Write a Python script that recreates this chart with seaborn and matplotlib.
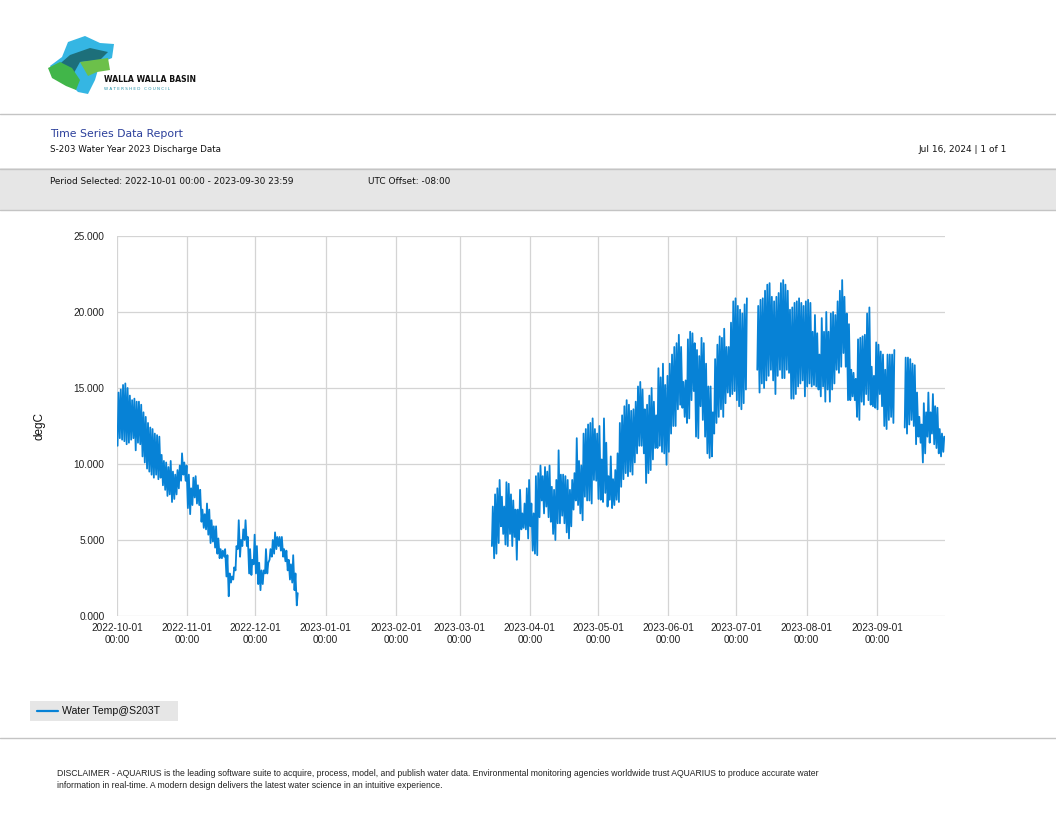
import pandas as pd
import matplotlib
matplotlib.use("Agg")
import matplotlib.pyplot as plt
import matplotlib.dates as mdates
from matplotlib.patches import Polygon, Rectangle
import seaborn as sns

# Daily high / low water temperature (degC), one value per day.
# Each segment starts on the date in seg_starts; gaps in the record sit between segments.
seg_starts = ["2022-10-01", "2023-03-15", "2023-07-10", "2023-09-13"]

hi_1 = [14.7, 14.9, 15.2, 15.3, 15.0, 14.5, 14.2, 14.3, 14.1, 14.1,
        13.9, 13.4, 13.1, 12.7, 12.4, 12.3, 12.0, 11.9, 11.8, 10.6,
        10.2, 10.1, 9.8, 10.2, 9.5, 9.3, 9.6, 9.9, 10.7, 10.1,
        9.9, 9.3, 8.4, 9.1, 9.2, 8.6, 8.3, 7.0, 6.7, 7.4,
        7.0, 6.3, 5.9, 5.9, 5.1, 4.4, 4.3, 4.4, 4.0, 2.8,
        2.6, 3.2, 4.6, 6.3, 5.0, 5.7, 6.3, 5.2, 4.4, 3.7,
        5.35, 4.6, 3.5, 3.0, 3.0, 4.4, 3.5, 4.4, 5.0, 5.5,
        5.2, 5.2, 5.2, 4.4, 4.3, 3.7, 3.4, 4.0, 2.8, 1.5]
lo_1 = [11.2, 11.7, 11.6, 11.5, 11.3, 11.4, 11.6, 11.7, 10.9, 11.4,
        11.3, 10.5, 10.1, 9.7, 9.5, 9.3, 9.1, 9.3, 9.0, 9.1,
        8.6, 8.3, 7.9, 8.0, 7.5, 7.7, 8.0, 8.4, 8.9, 9.3,
        8.9, 7.1, 6.7, 7.3, 7.8, 7.4, 7.3, 6.2, 5.8, 5.7,
        5.35, 4.8, 4.9, 4.5, 4.1, 3.8, 3.8, 3.9, 2.6, 1.3,
        2.2, 2.4, 3.0, 4.4, 3.9, 4.6, 5.0, 4.6, 2.8, 2.7,
        3.4, 2.8, 2.1, 1.7, 2.1, 2.8, 2.8, 3.7, 3.9, 4.1,
        4.4, 4.6, 4.3, 3.9, 3.6, 3.0, 2.4, 2.2, 1.7, 0.7]

hi_2 = [7.2, 8.0, 8.4, 8.95, 7.85, 7.2, 8.8, 8.7, 8.0, 7.6,
        7.0, 7.0, 8.3, 6.75, 7.4, 8.4, 8.95, 7.4, 6.75, 9.2,
        9.4, 9.9, 9.2, 9.8, 9.5, 9.9, 8.5, 8.3, 8.95, 10.9,
        9.3, 9.3, 9.2, 8.95, 8.3, 8.95, 9.4, 11.7, 10.2, 9.9,
        12.0, 12.3, 12.6, 12.7, 13.0, 12.3, 12.0, 12.5, 10.3, 13.0,
        11.4, 9.2, 10.5, 9.0, 9.6, 10.7, 12.7, 13.2, 13.8, 14.2,
        13.9, 13.5, 13.6, 14.1, 15.1, 15.4, 14.9, 13.6, 13.9, 14.5,
        15.0, 14.1, 13.2, 16.3, 15.7, 16.6, 15.2, 15.8, 16.6, 17.2,
        17.7, 17.95, 18.5, 17.7, 15.4, 15.5, 18.2, 18.7, 18.6, 17.95,
        17.5, 17.1, 18.3, 17.95, 16.6, 15.1, 15.1, 13.4, 16.9, 17.85,
        18.4, 18.3, 18.9, 17.7, 17.7, 19.3, 20.7, 20.9, 20.4, 20.15,
        19.9, 20.5, 20.9]
lo_2 = [4.6, 3.8, 4.1, 4.8, 5.9, 5.4, 4.7, 4.6, 5.4, 4.6,
        5.2, 3.7, 5.0, 5.7, 5.8, 5.7, 5.1, 5.9, 4.3, 4.1,
        4.0, 6.5, 7.6, 6.75, 7.2, 6.5, 6.2, 5.4, 5.0, 6.1,
        6.1, 6.6, 6.1, 5.5, 5.1, 5.9, 7.0, 7.6, 7.3, 6.75,
        6.3, 7.85, 7.6, 7.6, 7.4, 8.95, 8.9, 7.7, 7.65, 7.5,
        8.1, 7.2, 7.65, 7.1, 7.3, 7.65, 7.5, 8.5, 9.0, 9.4,
        9.2, 9.5, 9.3, 10.1, 10.7, 11.2, 11.2, 10.7, 8.75, 9.4,
        9.6, 10.3, 11.05, 11.05, 11.2, 10.8, 10.7, 9.95, 10.8, 12.0,
        12.5, 12.5, 13.6, 13.9, 13.7, 13.1, 12.7, 13.0, 14.2, 14.8,
        11.8, 11.7, 13.8, 12.9, 11.8, 10.7, 10.4, 10.5, 12.0, 12.7,
        13.1, 13.6, 13.1, 14.0, 14.7, 14.45, 14.6, 14.8, 14.2, 13.8,
        13.6, 14.0, 14.9]

hi_3 = [20.4, 20.8, 20.9, 21.4, 21.8, 21.9, 21.0, 20.7, 21.0, 21.25,
        21.9, 22.1, 21.8, 21.4, 20.15, 20.3, 20.6, 20.7, 20.9, 20.6,
        20.4, 20.7, 20.8, 20.6, 18.7, 19.8, 18.6, 17.2, 19.6, 18.7,
        20.0, 18.7, 19.9, 20.0, 19.8, 20.7, 21.4, 22.1, 21.0, 19.9,
        19.2, 16.2, 16.0, 15.6, 18.2, 18.3, 18.4, 18.5, 19.9, 20.3,
        16.4, 15.8, 18.0, 17.85, 17.4, 17.2, 16.2, 17.2, 17.2, 17.2,
        17.5]
lo_3 = [16.2, 14.7, 15.3, 15.0, 15.5, 15.8, 16.2, 15.5, 14.6, 15.8,
        16.2, 15.65, 15.65, 16.2, 16.0, 14.3, 14.3, 14.6, 15.1, 15.3,
        15.5, 14.45, 15.1, 15.3, 15.1, 15.2, 15.1, 14.9, 14.45, 15.1,
        14.1, 14.9, 14.1, 14.9, 15.3, 16.2, 16.0, 16.4, 17.3, 16.4,
        14.2, 14.2, 14.45, 14.2, 13.1, 12.9, 14.1, 13.9, 14.6, 14.2,
        13.9, 13.8, 13.7, 13.6, 14.6, 13.8, 12.5, 12.3, 12.9, 13.1,
        12.7]

hi_4 = [17.0, 17.0, 16.9, 16.6, 16.5, 14.7, 13.1, 12.6, 14.0, 13.4,
        14.7, 13.4, 14.6, 13.8, 13.7, 12.3, 12.0, 11.8]
lo_4 = [12.4, 12.0, 12.6, 12.9, 12.5, 11.3, 11.8, 11.4, 10.1, 10.7,
        11.8, 11.4, 12.0, 11.3, 11.05, 10.7, 10.5, 10.8]

series_name = "Water Temp@S203T"
y_ticks = [0, 5, 10, 15, 20, 25]

LINE_COLOR = "#0782d6"
W, H = 1056, 816

# Build a long table: a low reading early in the day, a high reading in the afternoon
rows = []
for seg, (start, hi, lo) in enumerate(zip(seg_starts, [hi_1, hi_2, hi_3, hi_4],
                                          [lo_1, lo_2, lo_3, lo_4])):
    days = pd.date_range(start, periods=len(hi), freq="D")
    for day, h, l in zip(days, hi, lo):
        rows.append((seg, day + pd.Timedelta(hours=6), l))
        rows.append((seg, day + pd.Timedelta(hours=16), h))
df = pd.DataFrame(rows, columns=["segment", "time", "degC"])

sns.set_style("white")
plt.rcParams["font.family"] = ["Liberation Sans", "DejaVu Sans"]

fig = plt.figure(figsize=(W / 100, H / 100), dpi=100)

# page layer in pixel coordinates
page = fig.add_axes([0, 0, 1, 1])
page.set_xlim(0, W)
page.set_ylim(H, 0)
page.axis("off")

# logo (rough shapes)
page.add_patch(Polygon([(68, 42), (85, 36), (100, 43), (114, 44), (112, 58), (100, 63),
                        (95, 80), (88, 94), (78, 92), (70, 84), (56, 76), (50, 66), (62, 57)],
                       closed=True, color="#35b6e3", lw=0))
page.add_patch(Polygon([(55, 68), (70, 55), (90, 48), (108, 52), (100, 60), (80, 62),
                        (70, 80), (62, 78)], closed=True, color="#1d6f7a", lw=0))
page.add_patch(Polygon([(48, 68), (60, 62), (72, 68), (80, 80), (76, 90), (66, 86), (52, 78)],
                       closed=True, color="#41b649", lw=0))
page.add_patch(Polygon([(80, 62), (108, 58), (110, 70), (97, 72), (88, 76)],
                       closed=True, color="#6cc04a", lw=0))
page.text(104, 80, "WALLA WALLA BASIN", fontsize=5.6, fontweight="bold",
          family=["DejaVu Sans"], va="center", ha="left", color="#111111")
page.text(104, 89.5, "W A T E R S H E D   C O U N C I L", fontsize=3.0,
          family=["DejaVu Sans"], va="center", ha="left", color="#1e8fa8")

# header
page.plot([0, W], [114, 114], color="#c4c4c4", lw=1)
page.text(50, 134, "Time Series Data Report", fontsize=7.8, color="#2b3f9b",
          family=["DejaVu Sans"], va="center")
page.text(50, 149, "S-203 Water Year 2023 Discharge Data", fontsize=6.3, color="#111111",
          family=["DejaVu Sans"], va="center")
page.text(1007, 149, "Jul 16, 2024 | 1 of 1", fontsize=6.5, color="#111111",
          family=["DejaVu Sans"], va="center", ha="right")

page.add_patch(Rectangle((0, 168), W, 42, color="#e6e6e6", lw=0))
page.plot([0, W], [168.5, 168.5], color="#c4c4c4", lw=1)
page.plot([0, W], [210, 210], color="#c4c4c4", lw=1)
page.text(50, 182, "Period Selected: 2022-10-01 00:00 - 2023-09-30 23:59", fontsize=6.4,
          color="#111111", family=["DejaVu Sans"], va="center")
page.text(368, 182, "UTC Offset: -08:00", fontsize=6.4, color="#111111",
          family=["DejaVu Sans"], va="center")

# legend
page.add_patch(Rectangle((30, 701), 148, 20, color="#e6e6e6", lw=0))
page.plot([37, 58], [711, 711], color=LINE_COLOR, lw=1.6)
page.text(62, 711, series_name, fontsize=7.6, color="#111111", va="center")

# footer
page.plot([0, W], [738, 738], color="#c4c4c4", lw=1)
page.text(57, 773, "DISCLAIMER - AQUARIUS is the leading software suite to acquire, process, model, "
          "and publish water data. Environmental monitoring agencies worldwide trust AQUARIUS to "
          "produce accurate water", fontsize=6.2, color="#222222", va="center")
page.text(57, 785, "information in real-time. A modern design delivers the latest water science "
          "in an intuitive experience.", fontsize=6.2, color="#222222", va="center")

# chart
ax = fig.add_axes([117 / W, 1 - 616 / H, 828 / W, 380 / H])
ax.set_facecolor("none")
for seg in df["segment"].unique():
    sns.lineplot(data=df[df["segment"] == seg], x="time", y="degC", ax=ax,
                 color=LINE_COLOR, linewidth=1.3, estimator=None)

ax.set_xlim(pd.Timestamp("2022-10-01"), pd.Timestamp("2023-09-30 23:59"))
ax.set_ylim(0, 25)
ax.set_yticks(y_ticks)
ax.set_yticklabels([f"{v:.3f}" for v in y_ticks])
ax.xaxis.set_major_locator(mdates.MonthLocator())
ax.xaxis.set_major_formatter(mdates.DateFormatter("%Y-%m-%d\n%H:%M"))
ax.grid(True, color="#d4d4d4", lw=0.9)
ax.set_axisbelow(True)
for s in ax.spines.values():
    s.set_visible(False)
ax.tick_params(axis="both", length=0, labelsize=7.3, colors="#222222")
ax.tick_params(axis="y", pad=9)
ax.tick_params(axis="x", pad=5)
ax.set_xlabel("")
ax.set_ylabel("degC", fontsize=8.5, color="#111111")
ax.yaxis.set_label_coords(-(117 - 46) / 828, 0.5)
for lbl in ax.get_xticklabels():
    lbl.set_horizontalalignment("center")
    lbl.set_multialignment("center")

fig.savefig("out.png", dpi=100)
